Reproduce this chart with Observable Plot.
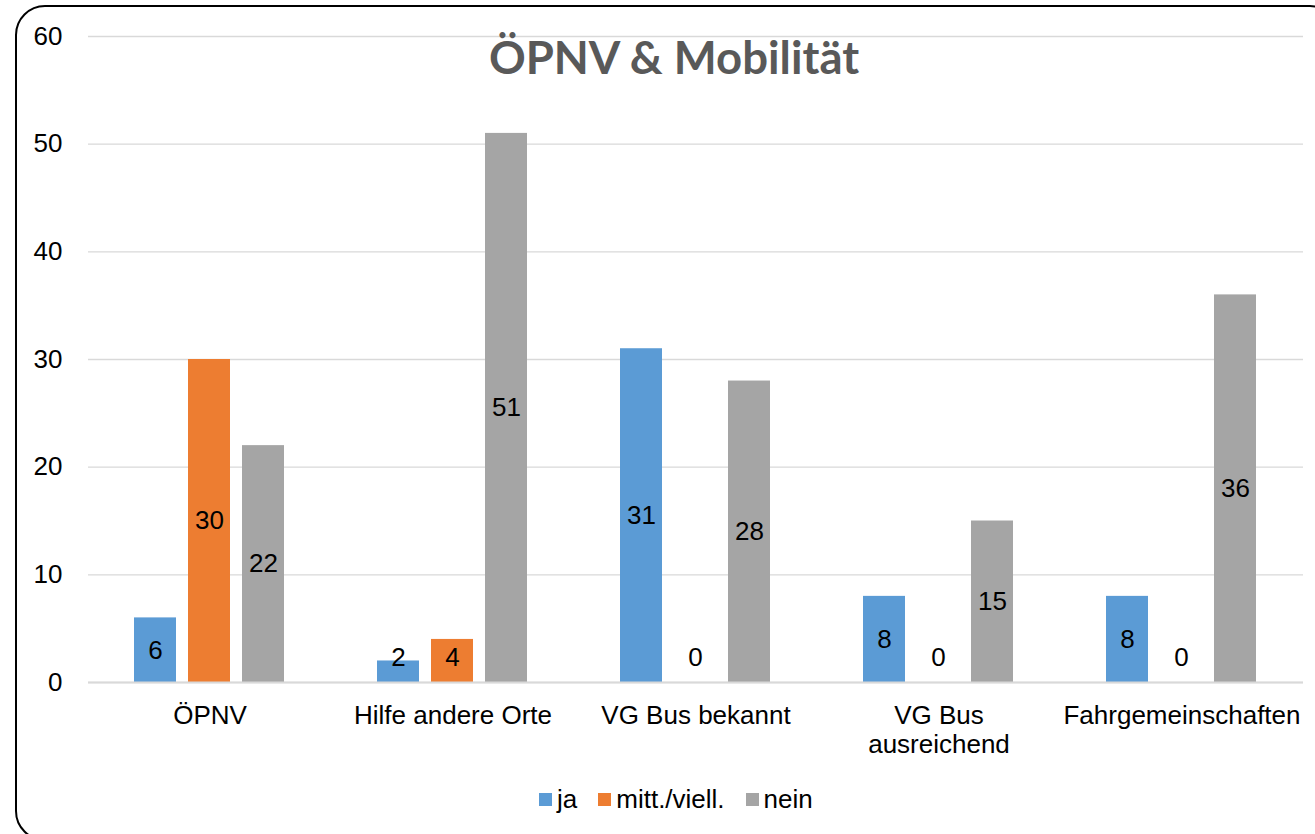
<!DOCTYPE html>
<html>
<head>
<meta charset="utf-8">
<script src="https://cdn.jsdelivr.net/npm/d3@7"></script>
<script src="https://cdn.jsdelivr.net/npm/@observablehq/plot@0.6"></script>
<style>
  html, body { margin: 0; padding: 0; background: #fff; overflow: hidden; }
  #wrap { position: relative; width: 1315px; height: 834px; overflow: hidden; font-family: "Liberation Sans", Arial, sans-serif; }
  #border { position: absolute; left: 15px; top: 5px; width: 1325px; height: 836px; border: 2px solid #000; border-radius: 30px; box-sizing: border-box; }
  #chart { position: absolute; left: 0; top: 0; }
  #title { position: absolute; left: 0; width: 1348px; top: 27px; text-align: center; font-family: Lato, "Open Sans", sans-serif; font-weight: 700; font-size: 45.5px; color: #595959; line-height: 60px; }
  #legend { position: absolute; left: 539px; top: 784px; display: flex; align-items: center; font-size: 26px; color: #000; line-height: 30px; }
  .item { display: flex; align-items: center; margin-right: 21px; }
  .sw { width: 13px; height: 13px; margin-right: 5px; }
</style>
</head>
<body>
<div id="wrap">
  <div id="border"></div>
  <div id="chart"></div>
  <div id="title">ÖPNV &amp; Mobilität</div>
  <div id="legend"></div>
</div>
<script>
const categories = ["ÖPNV", "Hilfe andere Orte", "VG Bus bekannt", "VG Bus ausreichend", "Fahrgemeinschaften"];
const tickLabels = ["ÖPNV", "Hilfe andere Orte", "VG Bus bekannt", "VG Bus\nausreichend", "Fahrgemeinschaften"];
const series = ["ja", "mitt./viell.", "nein"];
const ja = [6, 2, 31, 8, 8];
const mitt = [30, 4, 0, 0, 0];
const nein = [22, 51, 28, 15, 36];
const colors = ["#5B9BD5", "#ED7D31", "#A5A5A5"];
const yTicks = [0, 10, 20, 30, 40, 50, 60];

const valuesBySeries = [ja, mitt, nein];
const data = [];
categories.forEach((c, i) => {
  series.forEach((s, j) => {
    data.push({cat: c, series: s, value: valuesBySeries[j][i]});
  });
});

const chart = Plot.plot({
  width: 1315,
  height: 834,
  marginTop: 36,
  marginBottom: 152,
  marginLeft: 88,
  marginRight: 12,
  style: {fontFamily: "'Liberation Sans', Arial, sans-serif", background: "transparent"},
  fx: {domain: categories, padding: 0, label: null},
  x: {domain: series, paddingInner: 0.222, paddingOuter: 0.861, axis: null},
  y: {domain: [0, 60], label: null},
  color: {domain: series, range: colors},
  marks: [
    Plot.gridY(yTicks, {stroke: "#d9d9d9", strokeOpacity: 1, strokeWidth: 1.3}),
    Plot.axisY(yTicks, {tickSize: 0, tickPadding: 26, fontSize: 26, fill: "#000", label: null}),
    Plot.axisFx({anchor: "bottom", tickSize: 0, tickPadding: 21, fontSize: 26, fill: "#000", lineHeight: 1.12, label: null,
      tickFormat: d => tickLabels[categories.indexOf(d)]}),
    Plot.barY(data, {fx: "cat", x: "series", y: "value", fill: "series"}),
    Plot.ruleY([0], {stroke: "#d9d9d9", strokeWidth: 2}),
    Plot.text(data, {fx: "cat", x: "series", y: d => Math.max(d.value / 2, 2.3),
      text: d => String(d.value), fontSize: 26, fill: "#000"})
  ]
});
document.getElementById("chart").appendChild(chart);

const legend = document.getElementById("legend");
series.forEach((s, j) => {
  const it = document.createElement("div");
  it.className = "item";
  const sw = document.createElement("div");
  sw.className = "sw";
  sw.style.background = colors[j];
  const t = document.createElement("span");
  t.textContent = s;
  it.appendChild(sw);
  it.appendChild(t);
  legend.appendChild(it);
});
</script>
</body>
</html>
